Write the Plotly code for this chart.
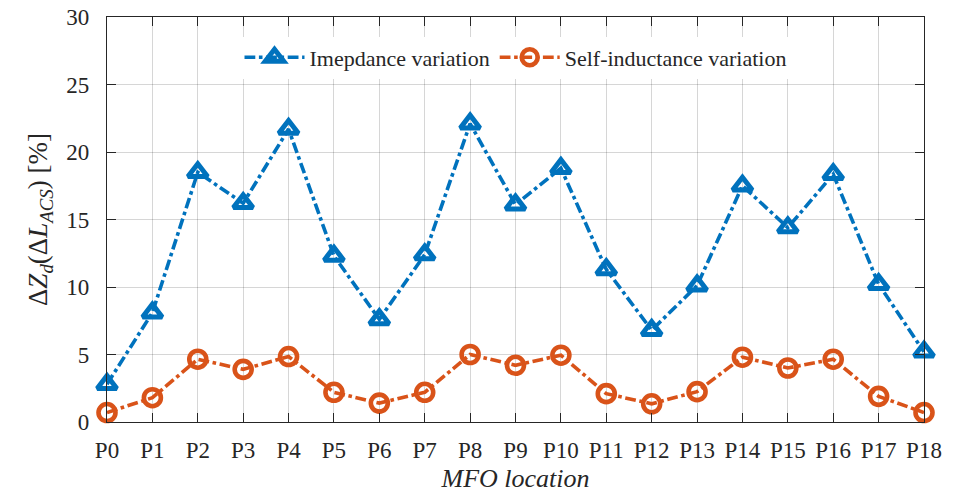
import plotly.graph_objects as go

# MFO locations along the x axis
locations = [f"P{i}" for i in range(19)]

# Impedance variation (%) at each location
impedance_var = [2.8, 8.1, 18.5, 16.2, 21.7, 12.3, 7.6, 12.4, 22.1, 16.1,
                 18.8, 11.3, 6.8, 10.1, 17.5, 14.4, 18.35, 10.2, 5.2]

# Self-inductance variation (%) at each location
self_ind_var = [0.7, 1.8, 4.65, 3.9, 4.85, 2.2, 1.4, 2.2, 5.0, 4.2,
                4.95, 2.1, 1.35, 2.25, 4.8, 4.0, 4.65, 1.9, 0.7]

y_ticks = [0, 5, 10, 15, 20, 25, 30]

BLUE = "#0072BD"
ORANGE = "#D95319"
INK = "#262626"
FONT = "Liberation Serif, Times New Roman, Times, serif"

x_idx = list(range(len(locations)))

fig = go.Figure()
fig.add_trace(go.Scatter(
    x=x_idx, y=impedance_var, name="Imepdance variation",
    mode="lines+markers", cliponaxis=False,
    line=dict(color=BLUE, width=3.6, dash="dashdot"),
    marker=dict(symbol="triangle-up-open", size=17, color=BLUE,
                line=dict(color=BLUE, width=5)),
))
fig.add_trace(go.Scatter(
    x=x_idx, y=self_ind_var, name="Self-inductance variation",
    mode="lines+markers", cliponaxis=False,
    line=dict(color=ORANGE, width=3.6, dash="dashdot"),
    marker=dict(symbol="circle-open", size=17, color=ORANGE,
                line=dict(color=ORANGE, width=4.6)),
))

axis_common = dict(
    showline=True, linecolor=INK, linewidth=1.2, mirror="ticks",
    ticks="inside", ticklen=9, tickcolor=INK, tickwidth=1,
    showgrid=True, gridcolor="rgba(0,0,0,0.16)", gridwidth=1,
    zeroline=False, automargin=False,
    tickfont=dict(family=FONT, size=23, color=INK),
)

fig.update_xaxes(
    range=[0, 18], tickvals=x_idx, ticktext=locations,
    ticklabelstandoff=7,
    title=dict(text="<i>MFO location</i>",
               font=dict(family=FONT, size=26, color=INK), standoff=7),
    **axis_common,
)
fig.update_yaxes(
    range=[0, 30], tickvals=y_ticks,
    ticklabelstandoff=12,
    title=dict(text="Δ<i>Z<sub>d</sub></i>(Δ<i>L<sub>ACS</sub></i>) [%]",
               font=dict(family=FONT, size=27, color=INK), standoff=10),
    **axis_common,
)

fig.update_layout(
    width=956, height=496,
    margin=dict(l=107, r=32, t=17, b=74),
    paper_bgcolor="white", plot_bgcolor="white",
    font=dict(family=FONT, color=INK),
    legend=dict(
        orientation="h", x=0.5, xanchor="center", y=0.90, yanchor="middle",
        bgcolor="white", borderwidth=0, itemwidth=60,
        font=dict(family=FONT, size=22, color=INK),
    ),
    showlegend=True,
)

fig.write_html("out.html")
